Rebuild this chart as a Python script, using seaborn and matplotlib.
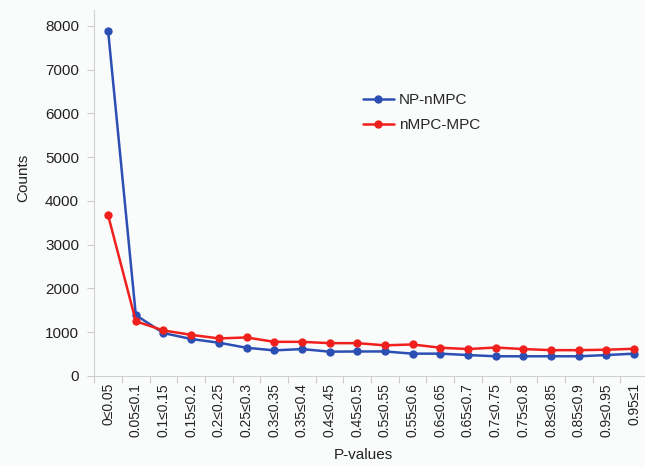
import pandas as pd
import matplotlib
matplotlib.use("Agg")
import matplotlib.pyplot as plt
import seaborn as sns
from matplotlib.ticker import FixedLocator

# P-value bins along the x axis
bins = ["0≤0.05", "0.05≤0.1", "0.1≤0.15", "0.15≤0.2", "0.2≤0.25",
        "0.25≤0.3", "0.3≤0.35", "0.35≤0.4", "0.4≤0.45", "0.45≤0.5",
        "0.5≤0.55", "0.55≤0.6", "0.6≤0.65", "0.65≤0.7", "0.7≤0.75",
        "0.75≤0.8", "0.8≤0.85", "0.85≤0.9", "0.9≤0.95", "0.95≤1"]

np_nmpc = [7880, 1390, 980, 845, 760, 645, 585, 615, 555, 560,
           560, 510, 510, 478, 450, 450, 450, 450, 478, 510]
nmpc_mpc = [3670, 1250, 1040, 940, 858, 880, 780, 780, 750, 750,
            700, 720, 645, 615, 650, 615, 590, 590, 600, 622]

series_names = ["NP-nMPC", "nMPC-MPC"]
palette = {"NP-nMPC": "#2c4fb4", "nMPC-MPC": "#f0201c"}

df = pd.concat([
    pd.DataFrame({"bin": bins, "pos": range(len(bins)), "count": np_nmpc, "series": series_names[0]}),
    pd.DataFrame({"bin": bins, "pos": range(len(bins)), "count": nmpc_mpc, "series": series_names[1]}),
])

sns.set_style("white")
plt.rcParams["font.family"] = ["Liberation Sans", "DejaVu Sans"]

fig = plt.figure(figsize=(6.45, 4.67), dpi=100)
fig.patch.set_facecolor("#fafbfb")
ax = fig.add_axes([0.1462, 0.1949, 0.8583, 0.7837])
ax.set_facecolor("#fafbfb")

sns.lineplot(data=df, x="pos", y="count", hue="series", palette=palette,
             marker="o", markersize=6, markeredgewidth=0, linewidth=1.8,
             ax=ax)

ax.set_xlim(-0.5, len(bins) - 0.5)
ax.set_ylim(0, 8360)
ax.set_yticks(range(0, 8001, 1000))
ax.set_xticks(range(len(bins)))
ax.set_xticklabels(bins, rotation=90, fontsize=10)
ax.xaxis.set_minor_locator(FixedLocator([i - 0.5 for i in range(len(bins) + 1)]))
ax.tick_params(axis="x", which="major", length=0, pad=5, labelcolor="#222222")
ax.tick_params(axis="x", which="minor", length=5, width=0.8, color="#cccccc", direction="out", bottom=True)
ax.tick_params(axis="y", length=5, width=0.8, color="#cccccc", labelsize=11, pad=6, labelcolor="#222222", left=True)

for side in ["top", "right"]:
    ax.spines[side].set_visible(False)
for side in ["left", "bottom"]:
    ax.spines[side].set_color("#d0d0d0")
    ax.spines[side].set_linewidth(0.8)

ax.set_xlabel("")
ax.set_ylabel("")
fig.text(363 / 645, 1 - 455 / 467, "P-values", ha="center", va="center", fontsize=11, color="#222222")
fig.text(23 / 645, 1 - 178 / 467, "Counts", ha="center", va="center", rotation=90, fontsize=11, color="#222222")

handles, labels = ax.get_legend_handles_labels()
ax.legend(handles, labels, loc="upper left", bbox_to_anchor=(363 / 645, 1 - 93 / 467),
          bbox_transform=fig.transFigure, frameon=False, fontsize=11,
          handlelength=2.0, handletextpad=0.35, labelspacing=0.75,
          borderpad=0, borderaxespad=0)

fig.savefig("out.png", dpi=100, facecolor=fig.get_facecolor())
